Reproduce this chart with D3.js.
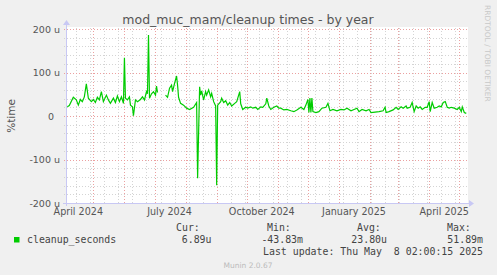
<!DOCTYPE html>
<html>
<head>
<meta charset="utf-8">
<script src="https://cdn.jsdelivr.net/npm/d3@7"></script>
<style>
	body { margin: 0; background: #f0f0f0; }
	svg { display: block; }
	text { font-family: "DejaVu Sans", sans-serif; fill: #555; }
	.mono { font-family: "DejaVu Sans Mono", monospace; fill: #444; }
</style>
</head>
<body>
<svg id="vis" width="497" height="275"></svg>
<script>
// days after 2024-04-05 and the value at that day (in micro, "u")
var firstDay = "2024-04-05";
var dayOffsets = [0, 2, 6, 9, 11, 13, 15, 17, 19, 21, 24, 26, 28, 30, 32, 34, 36, 39, 41, 43, 46, 48, 50, 52, 54, 56, 57, 58, 60, 62, 63, 65, 66, 68, 70, 73, 75, 77, 79, 80, 81, 82, 84, 86, 88, 89, 90,
	94,
	98, 100, 102, 104, 105, 107, 109, 110, 111, 113, 116, 119, 122, 126, 129, 130, 132, 133, 134, 136, 138, 139, 141, 143, 144, 146, 148, 149, 150, 153, 154, 156, 158, 160, 162, 164, 167, 169, 172, 173, 175, 178, 180, 183, 185, 188, 190, 193, 195, 198, 199, 201, 203, 206, 209, 211, 213, 216, 219, 223, 226, 229, 233, 236, 238, 240, 241, 242, 243, 244, 245, 248, 251, 254, 258, 260, 262, 265, 269, 273, 276, 279, 283, 286, 289, 291, 294, 298, 301, 303, 307, 311, 315, 317, 318, 321, 325, 328, 330, 333, 335, 338, 339, 342, 344, 346, 348, 350, 352, 354, 357, 359, 361, 362, 364, 366, 369, 371, 373, 375, 377, 379, 381, 383, 386, 389, 391, 393, 394, 396, 398];
var cleanupValues = [21, 24, 43, 37, 25, 38, 33, 44, 74, 41, 33, 38, 31, 43, 37, 56, 33, 48, 37, 29, 41, 31, 46, 33, 44, 29, 134, 41, 37, 44, 25, 21, 1, 37, 33, 38, 44, 37, 56, 51, 186, 41, 51, 56, 48, 69, 54,
	null,
	48, 43, 64, 71, 56, 75, 92, 71, 43, 29, 25, 18, 15, 20, 31, -143, 67, 48, 58, 37, 56, 48, 60, 44, 52, 33, 23, -159, 25, 33, 41, 31, 35, 25, 31, 23, 29, 33, 56, 28, 15, 20, 18, 21, 18, 20, 15, 21, 20, 28, 41, 23, 15, 20, 23, 18, 18, 14, 15, 12, 10, 14, 20, 15, 25, 38, 8, 41, 8, 41, 10, 8, 10, 18, 20, 29, 12, 15, 12, 15, 14, 18, 12, 15, 18, 10, 15, 12, 15, 8, 9, 10, 12, 20, 8, 10, 14, 20, 15, 21, 18, 23, 18, 20, 31, 10, 23, 18, 21, 15, 20, 20, 33, 10, 31, 18, 20, 23, 21, 31, 33, 20, 18, 20, 18, 15, 20, 10, 21, 8, 6];

var yMajorTicks = [-200, -100, 0, 100, 200];
var yTickLabels = ["-200 u", "-100 u", "0", "100 u", "200 u"];
var xLabelMonths = ["2024-04-01", "2024-07-01", "2024-10-01", "2025-01-01", "2025-04-01"];
var xLabels = ["April 2024", "July 2024", "October 2024", "January 2025", "April 2025"];

var legendName = "cleanup_seconds";
var legendHeads = ["Cur:", "Min:", "Avg:", "Max:"];
var legendValues = ["6.89u", "-43.83m", "23.80u", "51.89m"];
var lastUpdate = "Last update: Thu May  8 02:00:15 2025";

var parse = d3.utcParse("%Y-%m-%d");
var base = parse(firstDay);
var data = dayOffsets.map((d, i) => ({ date: d3.utcDay.offset(base, d), value: cleanupValues[i] }));

var svg = d3.select("#vis");
var plotLeft = 67, plotRight = 468, plotTop = 29, plotBottom = 203;

var x = d3.scaleUtc()
          .domain([new Date(Date.UTC(2024, 3, 4, 17)), new Date(Date.UTC(2025, 4, 9, 17))])
          .range([plotLeft, plotRight]);
var y = d3.scaleLinear().domain([-200, 200]).range([plotBottom, plotTop]);

// canvas
svg.append("rect")
   .attr("x", plotLeft).attr("y", plotTop - 2)
   .attr("width", plotRight - plotLeft).attr("height", plotBottom - plotTop + 2)
   .attr("fill", "#fff");

// minor horizontal grid (every 20u)
svg.selectAll(".hminor")
   .data(d3.range(-200, 201, 20).filter(v => v % 100 != 0))
   .enter().append("line")
   .attr("x1", plotLeft - 3).attr("x2", plotRight)
   .attr("y1", d => Math.round(y(d)) + 0.5).attr("y2", d => Math.round(y(d)) + 0.5)
   .attr("stroke", "#d4d4d4").attr("stroke-dasharray", "1,2");

// minor vertical grid (every other sunday)
var gridAnchor = parse("2024-05-12");
var sundays = d3.utcSunday.range(x.domain()[0], x.domain()[1])
                .filter(d => Math.round((d - gridAnchor) / 864e5) % 14 == 0);
svg.selectAll(".vminor")
   .data(sundays)
   .enter().append("line")
   .attr("x1", d => Math.round(x(d)) + 0.5).attr("x2", d => Math.round(x(d)) + 0.5)
   .attr("y1", plotTop - 1).attr("y2", plotBottom + 2)
   .attr("stroke", "#d4d4d4").attr("stroke-dasharray", "1,2");

// major grid
svg.selectAll(".hmajor")
   .data(yMajorTicks)
   .enter().append("line")
   .attr("x1", plotLeft - 3).attr("x2", plotRight)
   .attr("y1", d => Math.round(y(d)) + 0.5).attr("y2", d => Math.round(y(d)) + 0.5)
   .attr("stroke", "#eba0a0").attr("stroke-dasharray", "1,2");

svg.selectAll(".vmajor")
   .data(d3.utcMonth.range(x.domain()[0], x.domain()[1]))
   .enter().append("line")
   .attr("x1", d => Math.round(x(d)) + 0.5).attr("x2", d => Math.round(x(d)) + 0.5)
   .attr("y1", plotTop - 1).attr("y2", plotBottom + 2)
   .attr("stroke", "#eba0a0").attr("stroke-dasharray", "1,2");

// data line
var line = d3.line()
             .defined(d => d.value != null)
             .x(d => x(d.date))
             .y(d => y(d.value));
svg.append("path")
   .datum(data)
   .attr("d", line)
   .attr("fill", "none")
   .attr("stroke", "#00cc00")
   .attr("stroke-width", 1.2);

// axes with arrows
var axisColor = "#c8c8f4";
svg.append("line")
   .attr("x1", plotLeft - 0.5).attr("x2", plotLeft - 0.5)
   .attr("y1", plotBottom + 3).attr("y2", plotTop - 6)
   .attr("stroke", axisColor);
svg.append("path")
   .attr("d", `M${plotLeft - 4},${plotTop - 4} L${plotLeft - 0.5},${plotTop - 9} L${plotLeft + 3},${plotTop - 4} Z`)
   .attr("fill", axisColor);
svg.append("line")
   .attr("x1", plotLeft - 4).attr("x2", plotRight + 3)
   .attr("y1", plotBottom + 0.5).attr("y2", plotBottom + 0.5)
   .attr("stroke", axisColor);
svg.append("path")
   .attr("d", `M${plotRight + 1},${plotBottom - 3} L${plotRight + 6},${plotBottom + 0.5} L${plotRight + 1},${plotBottom + 4} Z`)
   .attr("fill", axisColor);

// y labels
svg.selectAll(".ylabel")
   .data(yMajorTicks)
   .enter().append("text")
   .attr("x", (d, i) => yTickLabels[i] == "0" ? 54 : 60)
   .attr("y", d => y(d) + 3.5)
   .attr("text-anchor", "end")
   .attr("font-size", 9.5)
   .text((d, i) => yTickLabels[i]);

// x labels, centered mid month
svg.selectAll(".xlabel")
   .data(xLabelMonths)
   .enter().append("text")
   .attr("x", d => x(d3.utcDay.offset(parse(d), 15)))
   .attr("y", 215)
   .attr("text-anchor", "middle")
   .attr("font-size", 9.6)
   .text((d, i) => xLabels[i]);

// title
svg.append("text")
   .attr("x", 248).attr("y", 24)
   .attr("text-anchor", "middle")
   .attr("font-size", 12.5)
   .text("mod_muc_mam/cleanup times - by year");

// y-label
svg.append("text")
   .attr("transform", "translate(15," + y(0) + ") rotate(270)")
   .attr("text-anchor", "middle")
   .attr("font-size", 10.5)
   .text("%time");

// watermark
svg.append("text")
   .attr("transform", "translate(485,5) rotate(90)")
   .attr("font-size", 7.5)
   .style("fill", "#c8c8c8")
   .text("RRDTOOL / TOBI OETIKER");

// legend
svg.append("rect")
   .attr("x", 14).attr("y", 237)
   .attr("width", 5.5).attr("height", 5.5)
   .attr("fill", "#00cc00");
svg.append("text")
   .attr("class", "mono")
   .attr("x", 27).attr("y", 243)
   .attr("font-size", 9.9)
   .text(legendName);

var headX = [176, 267, 357, 447];
var valueX = [211.5, 303, 387, 483];
svg.selectAll(".head")
   .data(legendHeads)
   .enter().append("text")
   .attr("class", "mono")
   .attr("x", (d, i) => headX[i]).attr("y", 231)
   .attr("font-size", 9.9)
   .text(d => d);
svg.selectAll(".val")
   .data(legendValues)
   .enter().append("text")
   .attr("class", "mono")
   .attr("x", (d, i) => valueX[i]).attr("y", 243)
   .attr("text-anchor", "end")
   .attr("font-size", 9.9)
   .text(d => d);

svg.append("text")
   .attr("class", "mono")
   .attr("x", 483).attr("y", 255)
   .attr("text-anchor", "end")
   .attr("font-size", 9.9)
   .style("white-space", "pre")
   .text(lastUpdate);

svg.append("text")
   .attr("x", 248).attr("y", 268)
   .attr("text-anchor", "middle")
   .attr("font-size", 7.5)
   .style("fill", "#bbb")
   .text("Munin 2.0.67");
</script>
</body>
</html>
